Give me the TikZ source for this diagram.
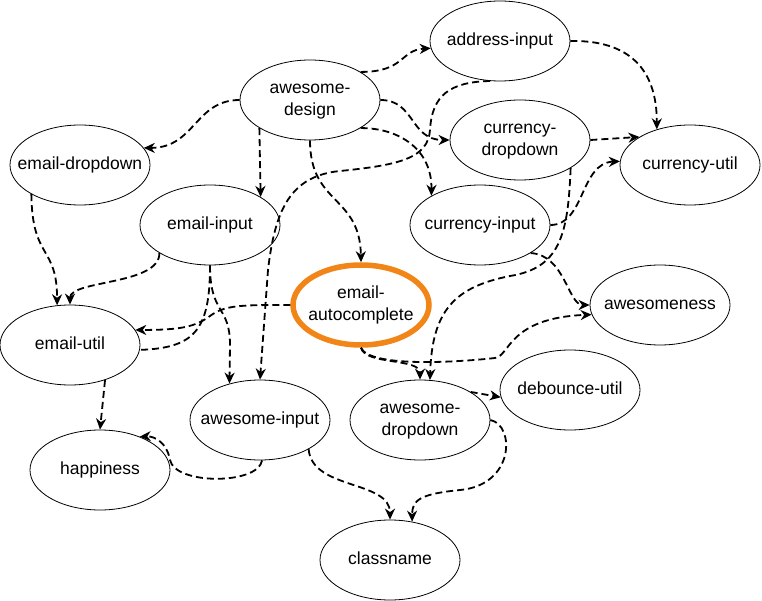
\documentclass[tikz,border=0pt]{standalone}
\usepackage{fontspec}
\setmainfont{Liberation Sans}
\usetikzlibrary{shapes.geometric,arrows.meta}
\definecolor{hl}{RGB}{242,133,24}
\newcommand{\lbl}[1]{\raisebox{-2pt}{\makebox[0pt]{\begin{tabular}{@{}c@{}}#1\end{tabular}}}}
\begin{document}
\begin{tikzpicture}[x=1pt,y=-1pt,
  pkg/.style={draw, fill=white, ellipse, minimum width=140pt, minimum height=80pt, inner sep=0pt, line width=0.8pt, font=\fontsize{17.5}{22}\selectfont},
  focus/.style={pkg, draw=hl, line width=5.5pt, minimum width=136pt, minimum height=80pt},
  link/.style={draw, line width=1.8pt, dash pattern=on 7pt off 4pt, line join=round},
  dep/.style={link, -{Stealth[length=11pt,width=10pt,inset=3.5pt]}}]
\useasboundingbox (0,0) rectangle (762,601);
\node[pkg] (ad) at (310,100) {\lbl{awesome-\\design}};
\node[pkg] (ai) at (500,41) {\lbl{address-input}};
\node[pkg] (cd) at (520,140) {\lbl{currency-\\dropdown}};
\node[pkg] (cu) at (690,165) {\lbl{currency-util}};
\node[pkg] (ci) at (480,225) {\lbl{currency-input}};
\node[pkg] (ed) at (80,165) {\lbl{email-dropdown}};
\node[pkg] (ei) at (210,225) {\lbl{email-input}};
\node[focus] (ea) at (361,305) {\lbl{email-\\autocomplete}};
\node[pkg] (eu) at (70,345) {\lbl{email-util}};
\node[pkg] (aw) at (660,305) {\lbl{awesomeness}};
\node[pkg] (du) at (570,390) {\lbl{debounce-util}};
\node[pkg] (adr) at (420,420) {\lbl{awesome-\\dropdown}};
\node[pkg] (ain) at (260,420) {\lbl{awesome-input}};
\node[pkg] (hp) at (100,470) {\lbl{happiness}};
\node[pkg] (cn) at (390,560) {\lbl{classname}};
% awesome-design
\draw[dep] (ad.29) .. controls (405,72) and (400,50) .. (ai.186);
\draw[dep] (ad.east) .. controls (415,100) and (410,140) .. (cd.west);
\draw[dep] (ad.-29) .. controls (400,128) and (432,150) .. (ci.149);
\draw[dep] (ad.209) -- (ei.29);
\draw[dep] (ad.south) .. controls (310,205) and (360,195) .. (ea.north);
\draw[dep] (ad.west) .. controls (195,100) and (195,148) .. (ed.15);
% address-input
\draw[dep] (ai.east) .. controls (630,40) and (657,70) .. (cu.133);
\draw[dep] (ai.256) .. controls (450,82) and (432,95) .. (430,130) .. controls (428,158) and (400,165) .. (340,171) .. controls (290,176) and (275,210) .. (268,270) -- (ain.north);
% currency
\draw[dep] (cd.east) -- (cu.151);
\draw[dep] (cd.-29) .. controls (568,235) and (560,268) .. (510,276) .. controls (455,287) and (432,310) .. (adr.76);
\draw[dep] (ci.east) .. controls (585,225) and (580,163) .. (cu.177);
\draw[dep] (ci.-29) .. controls (565,255) and (568,305) .. (aw.west);
% email
\draw[dep] (ed.211) .. controls (32,260) and (57,245) .. (eu.108);
\draw[dep] (ei.209) .. controls (160,285) and (70,280) .. (eu.north);
\draw[dep] (ea.west) .. controls (240,305) and (225,305) .. (210,316) .. controls (195,327) and (180,330) .. (eu.13);
\draw[link] (ei.south) .. controls (210,330) and (195,348) .. (eu.-4);
\draw[dep] (ei.south) .. controls (210,315) and (230,305) .. (230,345) -- (ain.130);
\draw[dep] (ea.south) .. controls (365,365) and (420,358) .. (adr.north);
\draw[dep] (ea.south) .. controls (370,368) and (460,362) .. (495,358) .. controls (510,356) and (508,318) .. (aw.188);
% lower
\draw[dep] (adr.29) -- (du.186);
\draw[dep] (adr.east) .. controls (515,425) and (515,485) .. (460,490) .. controls (420,494) and (412,500) .. (cn.60);
\draw[dep] (ain.-31) .. controls (312,490) and (390,480) .. (cn.north);
\draw[dep] (ain.-87) .. controls (258,485) and (175,485) .. (170,460) .. controls (167,443) and (155,436) .. (hp.40);
\draw[dep] (eu.-45) -- (hp.north);
\end{tikzpicture}
\end{document}
